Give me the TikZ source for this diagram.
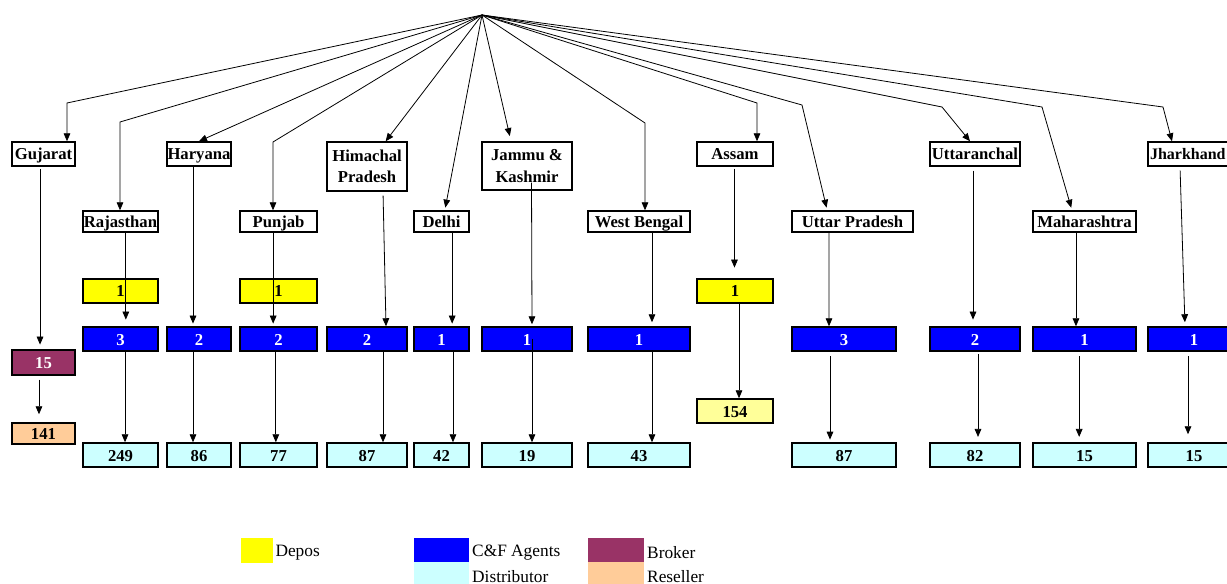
\documentclass[tikz,border=0pt]{standalone}
\usepackage{fontspec}
\setmainfont{Liberation Serif}
\usepackage{tikz}
\usetikzlibrary{arrows,arrows.meta,positioning}

\definecolor{agentblue}{RGB}{0,0,255}
\definecolor{distcyan}{RGB}{204,255,255}
\definecolor{brokerred}{RGB}{153,51,102}
\definecolor{resorange}{RGB}{255,204,153}
\definecolor{depoyellow}{RGB}{255,255,0}
\definecolor{paleyellow}{RGB}{255,255,153}

\begin{document}
\begin{tikzpicture}[x=0.75pt,y=-0.75pt]
    \tikzset{shell/.style={draw,line width=1.1pt,inner sep=0pt,minimum height=18pt,
        font=\fontsize{12.5}{16}\selectfont\bfseries}}
    \tikzset{box/.style={shell,text height=10pt,text depth=1pt}}
    \tikzset{zone/.style={box,fill=white}}
    \tikzset{zonetwo/.style={shell,fill=white,align=center}}
    \tikzset{zonelow/.style={box,fill=white,minimum height=15.75pt}}
    \tikzset{depos/.style={box,fill=depoyellow}}
    \tikzset{agents/.style={box,fill=agentblue,text=white}}
    \tikzset{distrib/.style={box,fill=distcyan}}
    \tikzset{broker/.style={box,fill=brokerred,text=white}}
    \tikzset{reseller/.style={box,fill=resorange}}
    \tikzset{swatch/.style={inner sep=0pt,minimum width=41.25pt,minimum height=18pt}}
    \tikzset{legend/.style={inner sep=0pt,font=\fontsize{13}{14}\selectfont}}
    \tikzset{link/.style={-{Triangle[length=6pt,width=5pt]},line width=0.6pt}}
    \useasboundingbox (0,0) rectangle (1227,584);
    \clip (0,0) rectangle (1227,584);
    \coordinate (top) at (482,15);
    \coordinate (kguj) at (67,103);
    \coordinate (kraj) at (120,122);
    \coordinate (kpun) at (273,142);
    \coordinate (kwbg) at (645,123);
    \coordinate (kasm) at (757,103);
    \coordinate (kupr) at (802,105);
    \coordinate (kutt) at (942,107);
    \coordinate (kmah) at (1042,107);
    \coordinate (kjhk) at (1163,107);

    \node[zone,minimum width=47.25pt] (guj) at (43.5,154) {Gujarat};
    \node[zone,minimum width=48pt] (har) at (199,154) {Haryana};
    \node[zonetwo,minimum width=60pt,minimum height=36.75pt] (him) at (367,166.5) {Himachal\\Pradesh};
    \node[zonetwo,minimum width=67.5pt,minimum height=36pt] (jk) at (527,166) {Jammu \&\\Kashmir};
    \node[zone,minimum width=57pt] (asm) at (735,154) {Assam};
    \node[zone,minimum width=67.5pt] (utt) at (975,154) {Uttaranchal};
    \node[zone,minimum width=69pt,text width=66pt,align=left,inner xsep=1pt,
        font=\fontsize{12}{15}\selectfont\bfseries] (jhk) at (1194,154) {Jharkhand};

    \node[zonelow,minimum width=56.25pt] (raj) at (120.5,221.5) {Rajasthan};
    \node[zonelow,minimum width=57.75pt] (pun) at (278.5,221.5) {Punjab};
    \node[zonelow,minimum width=41.25pt] (del) at (441.5,221.5) {Delhi};
    \node[zonelow,minimum width=76.5pt] (wbg) at (639,221.5) {West Bengal};
    \node[zonelow,minimum width=90.75pt] (upr) at (852.5,221.5) {Uttar Pradesh};
    \node[zonelow,minimum width=77.25pt] (mah) at (1084.5,221.5) {Maharashtra};

    \node[depos,minimum width=56.25pt] (rajdep) at (120.5,291) {1};
    \node[depos,minimum width=57.75pt] (pundep) at (278.5,291) {1};
    \node[depos,minimum width=57pt] (asmdep) at (735,291) {1};

    \node[agents,minimum width=56.25pt] (rajcf) at (120.5,339) {3};
    \node[agents,minimum width=48pt] (harcf) at (199,339) {2};
    \node[agents,minimum width=57.75pt] (puncf) at (278.5,339) {2};
    \node[agents,minimum width=60pt] (himcf) at (367,339) {2};
    \node[agents,minimum width=41.25pt] (delcf) at (441.5,339) {1};
    \node[agents,minimum width=67.5pt] (jkcf) at (527,339) {1};
    \node[agents,minimum width=76.5pt] (wbgcf) at (639,339) {1};
    \node[agents,minimum width=78pt] (uprcf) at (844,339) {3};
    \node[agents,minimum width=67.5pt] (uttcf) at (975,339) {2};
    \node[agents,minimum width=77.25pt] (mahcf) at (1084.5,339) {1};
    \node[agents,minimum width=69pt] (jhkcf) at (1194,339) {1};

    \node[broker,minimum width=47.25pt,minimum height=18.75pt] (gujbr) at (43.5,362.5) {15};
    \node[reseller,minimum width=47.25pt,minimum height=15.75pt] (gujres) at (43.5,433.5) {141};
    \node[box,fill=paleyellow,minimum width=57pt] (asmres) at (735,411) {154};

    \node[distrib,minimum width=56.25pt] (rajdis) at (120.5,455) {249};
    \node[distrib,minimum width=48pt] (hardis) at (199,455) {86};
    \node[distrib,minimum width=57.75pt] (pundis) at (278.5,455) {77};
    \node[distrib,minimum width=60pt] (himdis) at (367,455) {87};
    \node[distrib,minimum width=41.25pt] (deldis) at (441.5,455) {42};
    \node[distrib,minimum width=67.5pt] (jkdis) at (527,455) {19};
    \node[distrib,minimum width=76.5pt] (wbgdis) at (639,455) {43};
    \node[distrib,minimum width=78pt] (uprdis) at (844,455) {87};
    \node[distrib,minimum width=67.5pt] (uttdis) at (975,455) {82};
    \node[distrib,minimum width=77.25pt] (mahdis) at (1084.5,455) {15};
    \node[distrib,minimum width=69pt] (jhkdis) at (1194,455) {15};

    \draw[link] (top) -- (kguj) -- (kguj |- guj.north);
    \draw[link] (top) -- (kraj) -- (kraj |- raj.north);
    \draw[link] (top) -- (har.north);
    \draw[link] (top) -- (kpun) -- (kpun |- pun.north);
    \draw[link] (top) -- ([xshift=14pt]him.north);
    \draw[link,shorten >=2pt] (top) -- ([xshift=2.5pt]del.north);
    \draw[link,shorten >=4pt] (top) -- ([xshift=-12pt]jk.north);
    \draw[link] (top) -- (kwbg) -- (kwbg |- wbg.north);
    \draw[link] (top) -- (kasm) -- (kasm |- asm.north);
    \draw[link,shorten >=2pt] (top) -- (kupr) -- ([xshift=-19pt]upr.north);
    \draw[link] (top) -- (kutt) -- ([xshift=-3.75pt]utt.north);
    \draw[link,shorten >=2pt] (top) -- (kmah) -- ([xshift=-9.4pt]mah.north);
    \draw[link] (top) -- (kjhk) -- ([xshift=-16.5pt]jhk.north);

    \draw[link,shorten <=2pt,shorten >=3.5pt] ([xshift=-2.6pt]guj.south) -- ([xshift=-2.6pt]gujbr.north);
    \draw[link,shorten <=3pt,shorten >=6pt] ([xshift=-3.4pt]gujbr.south) -- ([xshift=-3.4pt]gujres.north);
    \draw[link,shorten >=5pt] ([xshift=4pt]raj.south) -- ([xshift=4pt]rajcf.north);
    \draw[link] ([xshift=3.4pt]rajcf.south) -- ([xshift=3.4pt]rajdis.north);
    \draw[link,shorten >=2pt] ([xshift=-4.5pt]har.south) -- ([xshift=-4.5pt]harcf.north);
    \draw[link] ([xshift=-4.5pt]harcf.south) -- ([xshift=-4.5pt]hardis.north);
    \draw[link,shorten >=2pt] ([xshift=-4pt]pun.south) -- ([xshift=-4pt]puncf.north);
    \draw[link] ([xshift=-2pt]puncf.south) -- ([xshift=-2pt]pundis.north);
    \draw[link,shorten <=3pt] ([xshift=12pt]him.south) -- ([xshift=14.25pt]himcf.north);
    \draw[link] ([xshift=12pt]himcf.south) -- ([xshift=12pt]himdis.north);
    \draw[link,shorten >=2pt] ([xshift=8pt]del.south) -- ([xshift=8pt]delcf.north);
    \draw[link] ([xshift=8.6pt]delcf.south) -- ([xshift=8.6pt]deldis.north);
    \draw[link,shorten <=-6pt,shorten >=1.5pt] ([xshift=3.4pt]jk.south) -- ([xshift=3.75pt]jkcf.north);
    \draw[link,shorten <=-9.75pt] ([xshift=3.75pt]jkcf.south) -- ([xshift=3.75pt]jkdis.north);
    \draw[link,shorten >=3pt] ([xshift=9.75pt]wbg.south) -- ([xshift=9.75pt]wbgcf.north);
    \draw[link] ([xshift=9.75pt]wbgcf.south) -- ([xshift=9.75pt]wbgdis.north);
    \draw[link,shorten <=1.5pt,shorten >=8pt] ([xshift=-0.4pt]asm.south) -- ([xshift=-0.4pt]asmdep.north);
    \draw[link] ([xshift=3pt]asmdep.south) -- ([xshift=3pt]asmres.north);
    \draw[link] ([xshift=-17.6pt]upr.south) -- ([xshift=-11.25pt]uprcf.north);
    \draw[link,shorten <=3.5pt,shorten >=2pt] ([xshift=-10.5pt]uprcf.south) -- ([xshift=-10.5pt]uprdis.north);
    \draw[link,shorten <=3pt,shorten >=5pt] ([xshift=-1.5pt]utt.south) -- ([xshift=-1.5pt]uttcf.north);
    \draw[link,shorten <=2pt,shorten >=4pt] ([xshift=2.25pt]uttcf.south) -- ([xshift=2.25pt]uttdis.north);
    \draw[link] ([xshift=-6.4pt]mah.south) -- ([xshift=-6.4pt]mahcf.north);
    \draw[link,shorten <=3.5pt,shorten >=4pt] ([xshift=-4pt]mahcf.south) -- ([xshift=-4pt]mahdis.north);
    \draw[link,shorten <=3pt,shorten >=3pt] ([xshift=-10.5pt]jhk.south) -- ([xshift=-6.75pt]jhkcf.north);
    \draw[link,shorten <=3.5pt,shorten >=6pt] ([xshift=-4.5pt]jhkcf.south) -- ([xshift=-4.5pt]jhkdis.north);

    \node[swatch,fill=depoyellow,minimum width=24pt,minimum height=18.75pt] (kdep) at (257,550.5) {};
    \node[legend,right=1.5pt of kdep,yshift=-2pt] (tdep) {Depos};
    \node[swatch,fill=agentblue] (kcf) at (441.5,550) {};
    \node[legend,right=2pt of kcf,yshift=-2pt] (tcf) {C\&F Agents};
    \node[swatch,fill=distcyan] (kdis) at (441.5,574) {};
    \node[legend,right=2pt of kdis,yshift=-2pt] (tdis) {Distributor};
    \node[swatch,fill=brokerred,minimum width=42pt] (kbr) at (616,550) {};
    \node[legend,right=2pt of kbr,yshift=-2pt] (tbr) {Broker};
    \node[swatch,fill=resorange,minimum width=42pt] (kres) at (616,574) {};
    \node[legend,right=2pt of kres,yshift=-2pt] (tres) {Reseller};
\end{tikzpicture}
\end{document}
